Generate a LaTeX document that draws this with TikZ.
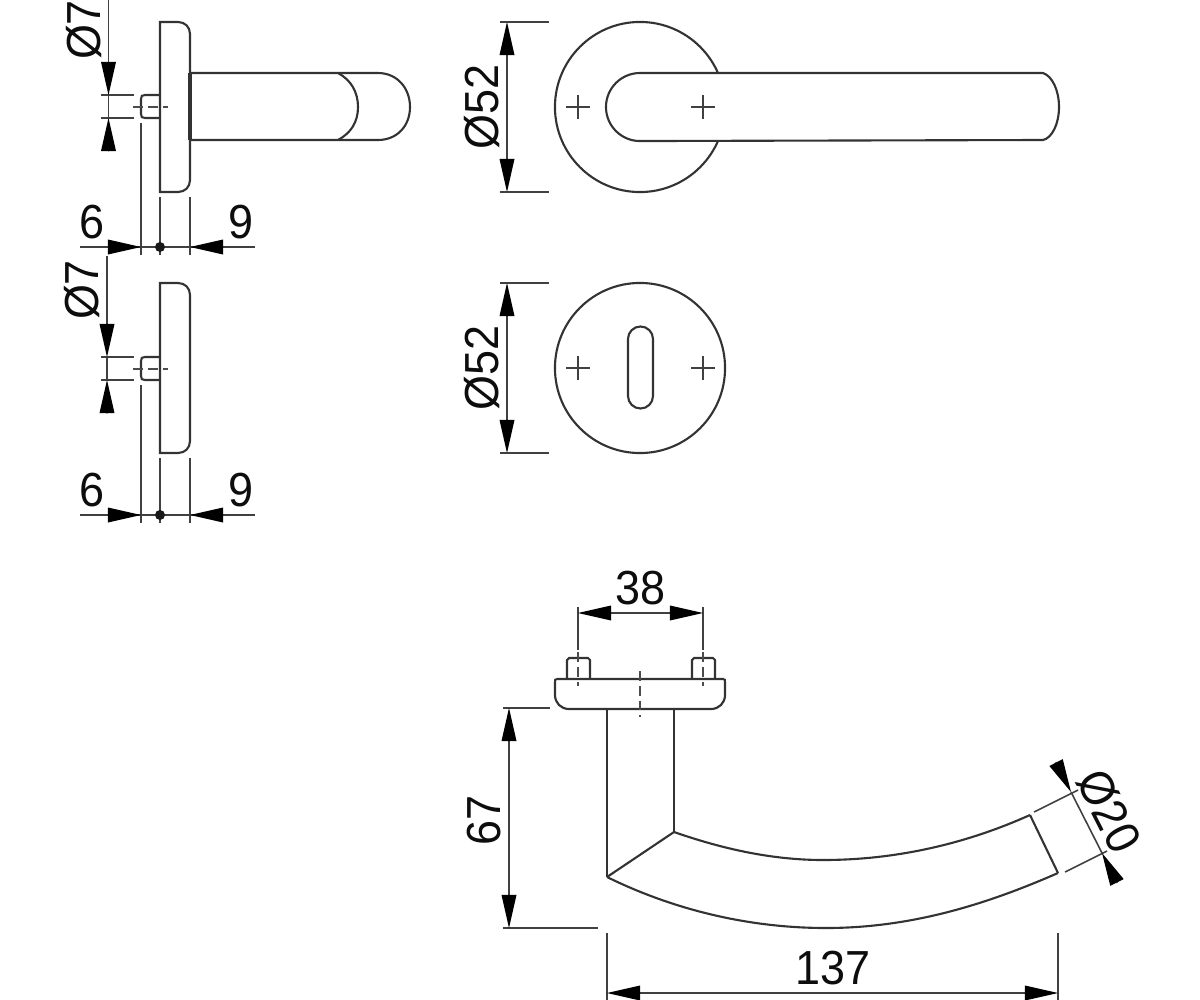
\documentclass[tikz,border=0pt]{standalone}
\usepackage{fontspec}
\setmainfont[FakeStretch=0.94]{Liberation Sans}
\usetikzlibrary{arrows.meta}
\usetikzlibrary{calc}

\tikzset{
	>={Triangle[length=0.33cm,width=0.15cm,color=black,fill=black,line width=0pt]},
	part/.style={line width=0.6pt, draw=black!80},
	thinpart/.style={line width=0.45pt, draw=black!75},
	axis/.style={line width=0.45pt, draw=black!70, dash pattern=on 2.8pt off 1.4pt},
	dimtip/.style={thinpart, ->},
	dimboth/.style={thinpart, <->},
	dimtext/.style={font=\fontsize{13.6pt}{14pt}\selectfont, inner sep=0pt, text=black!95}
}

\begin{document}
\begin{tikzpicture}[x=0.01cm,y=-0.01cm]
	\useasboundingbox (0,0) rectangle (1200,1000);

	% side views of the two roses
	\foreach \py/\dimy/\sx/\ty/\tx/\sy in {0/247/108.5/30/84/0, 261/515/107/290/82/1}
	{
		\begin{scope}[shift={(0,\py)}]
			\draw[part] (160,22) -- (178,22) .. controls (185,22) and (190,27) .. (190,34) -- (190,180)
				.. controls (190,187) and (185,192) .. (178,192) -- (160,192) -- cycle;
			\draw[part] (160,95+\sy) -- (145,95+\sy) .. controls (142,95+\sy) and (141,96+\sy) .. (141,99+\sy)
				-- (141,114+\sy) .. controls (141,117+\sy) and (142,118+\sy) .. (145,118+\sy) -- (160,118+\sy);
			\draw[axis] (133,107+\sy) -- (168,107+\sy);
			\draw[thinpart] (101,95+\sy) -- (134,95+\sy);
			\draw[thinpart] (101,118+\sy) -- (134,118+\sy);
			\draw[thinpart] (141,123+\sy) -- (141,\dimy+8-\py);
			\draw[thinpart] (160,197) -- (160,\dimy+8-\py);
			\draw[thinpart] (190,197) -- (190,\dimy+8-\py);
			\draw[dimtip] (\sx,0-\py*0.02) -- (\sx,95+\sy);
			\draw[thinpart] (\sx,95+\sy) -- (\sx,118+\sy);
			\draw[dimtip] (\sx,151+\sy) -- (\sx,118+\sy);
		\end{scope}

		\node[dimtext,rotate=90] (dseven\py) at (\tx,\ty) {Ø7};
		\draw[thinpart] (80,\dimy) -- (255,\dimy);
		\draw[dimtip] (108,\dimy) -- (141,\dimy);
		\draw[dimtip] (223,\dimy) -- (190,\dimy);
		\fill[black!90] (160,\dimy) circle (0.05cm);
		\node[dimtext] (six\py) at (92,\dimy-25) {6};
		\node[dimtext] (nine\py) at (241,\dimy-25) {9};
	}

	% thick edge where the handle meets the rose
	\draw[line width=1pt, draw=black!80] (190,73) -- (190,140);
	\draw[part] (190,73) -- (378,73) .. controls (397,73) and (410,88) .. (410,107)
		.. controls (410,126) and (397,140) .. (378,140) -- (190,140);
	\draw[part] (338,73) .. controls (351,80) and (358,92) .. (358,107)
		.. controls (358,122) and (351,133) .. (338,140);

	% front views
	\draw[part] (640,107) circle (0.85cm);
	\draw[part, fill=white] (1043,73) -- (640,73) arc[start angle=90,end angle=270,radius=0.34cm] -- (1043,140)
		.. controls (1052,138) and (1059,124) .. (1059,107) .. controls (1059,90) and (1052,76) .. (1043,73);
	\draw[part] (640,368) circle (0.85cm);
	\draw[part] (628,339) arc[start angle=180,end angle=0,radius=0.125cm] -- (653,396)
		arc[start angle=0,end angle=-180,radius=0.125cm] -- cycle;

	\foreach \cy in {107,368}
	{
		\foreach \cx in {578,703}
		{
			\draw[thinpart] (\cx-12,\cy) -- (\cx+12,\cy);
			\draw[thinpart] (\cx,\cy-12) -- (\cx,\cy+12);
		}
	}

	\foreach \cy/\dy in {107/85,368/85}
	{
		\draw[dimboth] (507,\cy-\dy) -- (507,\cy+\dy);
		\draw[thinpart] (500,\cy-\dy) -- (549,\cy-\dy);
		\draw[thinpart] (500,\cy+\dy) -- (549,\cy+\dy);
		\node[dimtext,rotate=90] (dfiftytwo\cy) at (482,\cy) {Ø52};
	}

	% lever seen from below
	\draw[part] (557,679) -- (723,679) .. controls (725,679) and (725,680) .. (725,682) -- (725,695)
		.. controls (725,703) and (719,709) .. (711,709) -- (569,709)
		.. controls (561,709) and (555,703) .. (555,695) -- (555,682) .. controls (555,680) and (555,679) .. (557,679);
	\foreach \cx in {578,703}
	{
		\draw[part] (\cx-11,679) -- (\cx-11,660) -- (\cx-9,658) -- (\cx+10,658) -- (\cx+12,660) -- (\cx+12,679);
		\draw[axis] (\cx,652) -- (\cx,686);
		\draw[thinpart] (\cx,607) -- (\cx,650);
	}
	\draw[axis] (640,671) -- (640,717);
	\draw[part] (607,709) -- (607,877);
	\draw[part] (674,709) -- (674,832);
	\draw[part] (607,877) -- (674,832);
	\draw[part] (674,832) .. controls (720,848) and (770,860) .. (823,860)
		.. controls (900,860) and (970,842) .. (1030,815);
	\draw[part] (607,877) .. controls (670,908) and (745,928) .. (826,928)
		.. controls (910,928) and (985,905) .. (1058,873);
	\draw[part] (1030,815) -- (1058,873);

	\draw[dimboth] (578,613) -- (703,613);
	\node[dimtext] (dthirtyeight) at (640,588) {38};

	\draw[thinpart] (503,708) -- (550,708);
	\draw[thinpart] (503,928) -- (598,928);
	\draw[dimboth] (509,708) -- (509,928);
	\node[dimtext,rotate=90] (dsixtyseven) at (484,820) {67};

	\draw[thinpart] (607,933) -- (607,1000);
	\draw[thinpart] (1058,933) -- (1058,1000);
	\draw[dimboth] (607,993) -- (1058,993);
	\node[dimtext] (dlength) at (833,968) {137};

	\coordinate (tipa) at (1071,792);
	\coordinate (tipb) at (1102,853);
	\draw[thinpart] (1034,812) -- (1078,790);
	\draw[thinpart] (1065,872) -- (1107,851);
	\draw[thinpart] (tipa) -- (tipb);
	\draw[dimtip] ($(tipa)!-0.49!(tipb)$) -- (tipa);
	\draw[dimtip] ($(tipb)!-0.49!(tipa)$) -- (tipb);
	\node[dimtext,rotate=-63] (dtwenty) at (1109,811) {Ø20};
\end{tikzpicture}
\end{document}
